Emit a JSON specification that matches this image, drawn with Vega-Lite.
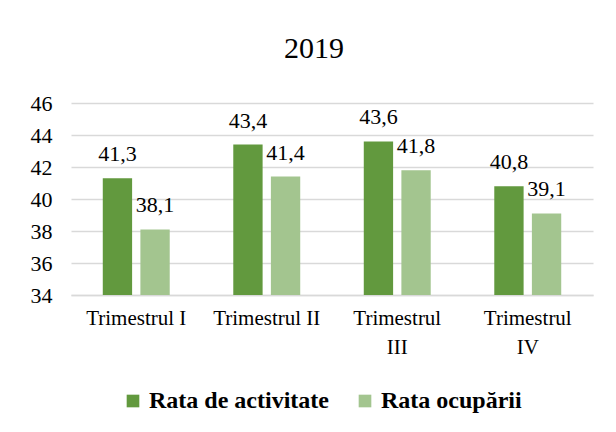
{
  "$schema": "https://vega.github.io/schema/vega-lite/v6.json",
  "autosize": "none",
  "width": 522,
  "height": 192,
  "padding": {"left": 71, "top": 103, "right": 23, "bottom": 137},
  "background": "white",
  "title": {
    "text": "2019",
    "font": "Liberation Serif",
    "fontSize": 30,
    "fontWeight": "normal",
    "color": "#000000",
    "anchor": "middle",
    "frame": "group",
    "dx": -18,
    "baseline": "alphabetic",
    "offset": 4
  },
  "config": {
    "locale": {"number": {"decimal": ",", "thousands": ".", "grouping": [3], "currency": ["", ""]}},
    "view": {"stroke": null},
    "font": "Liberation Serif"
  },
  "data": {
    "values": [
      {"trimestru": "Trimestrul I", "serie": "Rata de activitate", "valoare": 41.3},
      {"trimestru": "Trimestrul I", "serie": "Rata ocupării", "valoare": 38.1},
      {"trimestru": "Trimestrul II", "serie": "Rata de activitate", "valoare": 43.4},
      {"trimestru": "Trimestrul II", "serie": "Rata ocupării", "valoare": 41.4},
      {"trimestru": "Trimestrul III", "serie": "Rata de activitate", "valoare": 43.6},
      {"trimestru": "Trimestrul III", "serie": "Rata ocupării", "valoare": 41.8},
      {"trimestru": "Trimestrul IV", "serie": "Rata de activitate", "valoare": 40.8},
      {"trimestru": "Trimestrul IV", "serie": "Rata ocupării", "valoare": 39.1}
    ]
  },
  "encoding": {
    "x": {
      "field": "trimestru",
      "type": "nominal",
      "sort": null,
      "scale": {"paddingInner": 0.487, "paddingOuter": 0.2435},
      "axis": {
        "title": null,
        "labelAngle": 0,
        "labelFont": "Liberation Serif",
        "labelFontSize": 21,
        "labelColor": "#000000",
        "labelPadding": 12,
        "labelLineHeight": 29,
        "labelLimit": 0,
        "ticks": false,
        "domainColor": "#d9d9d9",
        "domainWidth": 1.5,
        "labelExpr": "indexof(['Trimestrul III','Trimestrul IV'], datum.label) >= 0 ? split(datum.label, ' ') : datum.label"
      }
    },
    "xOffset": {
      "field": "serie",
      "type": "nominal",
      "sort": ["Rata de activitate", "Rata ocupării"],
      "scale": {"paddingInner": 0.22, "paddingOuter": 0}
    },
    "y": {
      "field": "valoare",
      "type": "quantitative",
      "scale": {"domain": [34, 46], "nice": false, "zero": false},
      "axis": {
        "title": null,
        "values": [34, 36, 38, 40, 42, 44, 46],
        "format": "d",
        "labelFont": "Liberation Serif",
        "labelFontSize": 22,
        "labelColor": "#000000",
        "labelPadding": 19,
        "ticks": false,
        "domain": false,
        "gridColor": "#d9d9d9",
        "gridWidth": 1.5
      }
    }
  },
  "layer": [
    {
      "mark": {"type": "bar"},
      "encoding": {
        "y2": {"datum": 34},
        "color": {
          "field": "serie",
          "type": "nominal",
          "sort": ["Rata de activitate", "Rata ocupării"],
          "scale": {"domain": ["Rata de activitate", "Rata ocupării"], "range": ["#62993e", "#a3c58f"]},
          "legend": {
            "title": null,
            "orient": "none",
            "legendX": 50,
            "legendY": 286,
            "direction": "horizontal",
            "symbolType": "square",
            "symbolSize": 160,
            "symbolStrokeWidth": 0,
            "labelFont": "Liberation Serif",
            "labelFontSize": 24,
            "labelFontWeight": "bold",
            "labelColor": "#000000",
            "labelOffset": 4,
            "columnPadding": 24,
            "labelLimit": 0
          }
        }
      }
    },
    {
      "mark": {"type": "text", "baseline": "alphabetic", "dy": -17, "font": "Liberation Serif", "fontSize": 22, "color": "#000000"},
      "encoding": {
        "text": {"field": "valoare", "type": "quantitative", "format": ".1f"}
      }
    }
  ]
}
